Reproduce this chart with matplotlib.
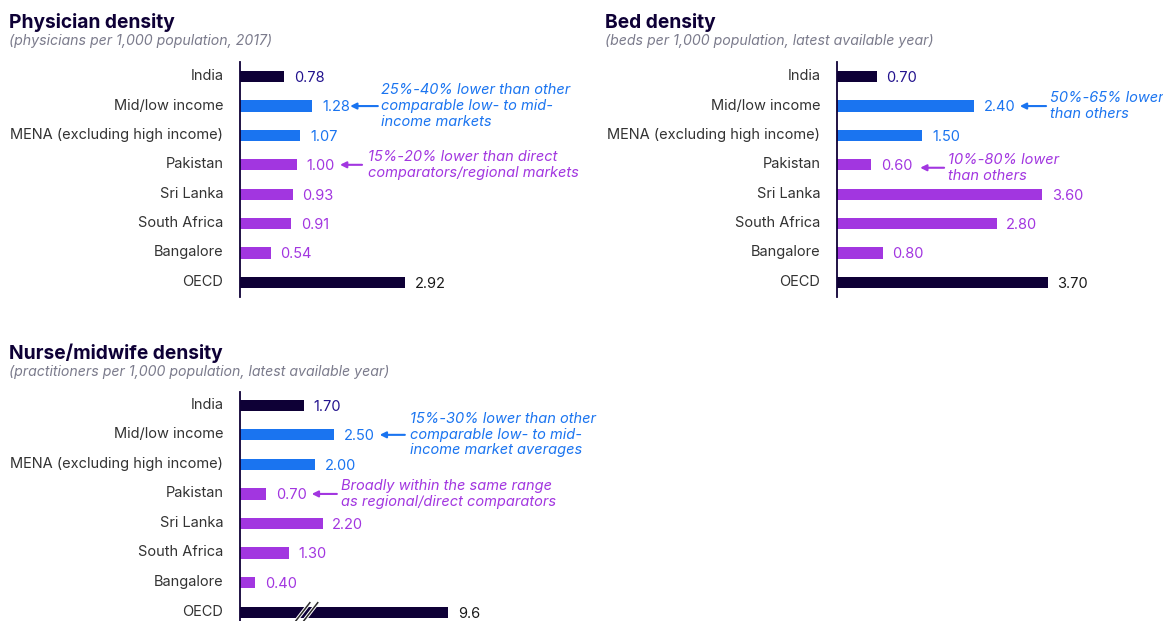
import matplotlib
matplotlib.use("Agg")
import matplotlib.pyplot as plt

# data
categories = ["India", "Mid/low income", "MENA (excluding high income)", "Pakistan",
              "Sri Lanka", "South Africa", "Bangalore", "OECD"]
physician = [0.78, 1.28, 1.07, 1.00, 0.93, 0.91, 0.54, 2.92]
beds = [0.70, 2.40, 1.50, 0.60, 3.60, 2.80, 0.80, 3.70]
nurses = [1.70, 2.50, 2.00, 0.70, 2.20, 1.30, 0.40, 9.6]
nurse_oecd_label = "9.6"

DARK = "#0e0036"
BLUE = "#1a74f0"
PURPLE = "#a236e0"
bar_colors = [DARK, BLUE, BLUE, PURPLE, PURPLE, PURPLE, PURPLE, DARK]
label_colors = ["#23138e", BLUE, BLUE, PURPLE, PURPLE, PURPLE, PURPLE, "#1a1a1a"]

plt.rcParams['font.family'] = ['Inter', 'DejaVu Sans']

W, H = 1163, 621
fig = plt.figure(figsize=(W / 100, H / 100), dpi=100, facecolor='white')


def px_axes(left, top, right, bottom):
    return fig.add_axes([left / W, 1 - bottom / H, (right - left) / W, (bottom - top) / H])


def draw_panel(ax, values, xmax, ylim, labels, cap=None):
    shown = [min(v, cap) if cap else v for v in values]
    y = list(range(len(values)))
    ax.barh(y, shown, height=0.38, color=bar_colors)
    ax.set_xlim(0, xmax)
    ax.set_ylim(*ylim)
    ax.set_yticks([i - 0.07 for i in y])
    ax.set_yticklabels(categories, fontsize=10.5, color="#333333")
    ax.tick_params(axis='y', length=0, pad=12)
    ax.set_xticks([])
    for s in ['top', 'right', 'bottom']:
        ax.spines[s].set_visible(False)
    ax.spines['left'].set_color(DARK)
    ax.spines['left'].set_linewidth(1.3)
    for i, (v, lab) in enumerate(zip(shown, labels)):
        ax.annotate(lab, (v, i), xytext=(7, -1), textcoords='offset points',
                    va='center', ha='left', fontsize=10.5, color=label_colors[i])


def note(ax, row, head, tail, tx, text, color):
    ax.annotate("", xy=(head, row), xytext=(tail, row),
                arrowprops=dict(arrowstyle='-|>', color=color, lw=1.5, mutation_scale=9,
                                shrinkA=0, shrinkB=0))
    ax.text(tx, row, text, color=color, fontsize=10.5, style='italic', va='center',
            ha='left', linespacing=1.15)


def titles(x, y, title, sub):
    fig.text(x / W, 1 - y / H, title, fontsize=13.8, fontweight='bold', color=DARK, va='baseline')
    fig.text(x / W, 1 - (y + 17) / H, sub, fontsize=10.2, style='italic', color="#7b7b8c",
             va='baseline')


# Physician density
ax1 = px_axes(240, 62, 579, 297)
draw_panel(ax1, physician, 6, (7.5, -0.5), [f"{v:.2f}" for v in physician])
note(ax1, 1, 1.95, 2.44, 2.5, "25%-40% lower than other\ncomparable low- to mid-\nincome markets", BLUE)
note(ax1, 3, 1.77, 2.16, 2.27, "15%-20% lower than direct\ncomparators/regional markets", PURPLE)
titles(9, 28, "Physician density", "(physicians per 1,000 population, 2017)")

# Bed density
ax2 = px_axes(837, 62, 1156, 297)
draw_panel(ax2, beds, 5.6, (7.5, -0.5), [f"{v:.2f}" for v in beds])
note(ax2, 1, 3.21, 3.67, 3.74, "50%-65% lower\nthan others", BLUE)
note(ax2, 3.1, 1.46, 1.88, 1.95, "10%-80% lower\nthan others", PURPLE)
titles(605, 28, "Bed density", "(beds per 1,000 population, latest available year)")

# Nurse/midwife density
ax3 = px_axes(240, 392, 578, 621)
nurse_labels = [f"{v:.2f}" for v in nurses[:-1]] + [nurse_oecd_label]
draw_panel(ax3, nurses, 9, (7.3, -0.45), nurse_labels, cap=5.55)
note(ax3, 1, 3.72, 4.39, 4.52, "15%-30% lower than other\ncomparable low- to mid-\nincome market averages", BLUE)
note(ax3, 3, 1.91, 2.58, 2.69, "Broadly within the same range\nas regional/direct comparators", PURPLE)
# axis break marks on the OECD bar
for dx in (0.0, 0.21):
    ax3.plot([1.49 + dx, 1.86 + dx], [7.29, 6.68], color="white", lw=2.6, clip_on=False,
             solid_capstyle='butt')
    ax3.plot([1.49 + dx, 1.86 + dx], [7.29, 6.68], color="#2a2a2a", lw=1.1, clip_on=False)
titles(9, 359, "Nurse/midwife density", "(practitioners per 1,000 population, latest available year)")

fig.savefig("out.png", dpi=100, facecolor='white')
